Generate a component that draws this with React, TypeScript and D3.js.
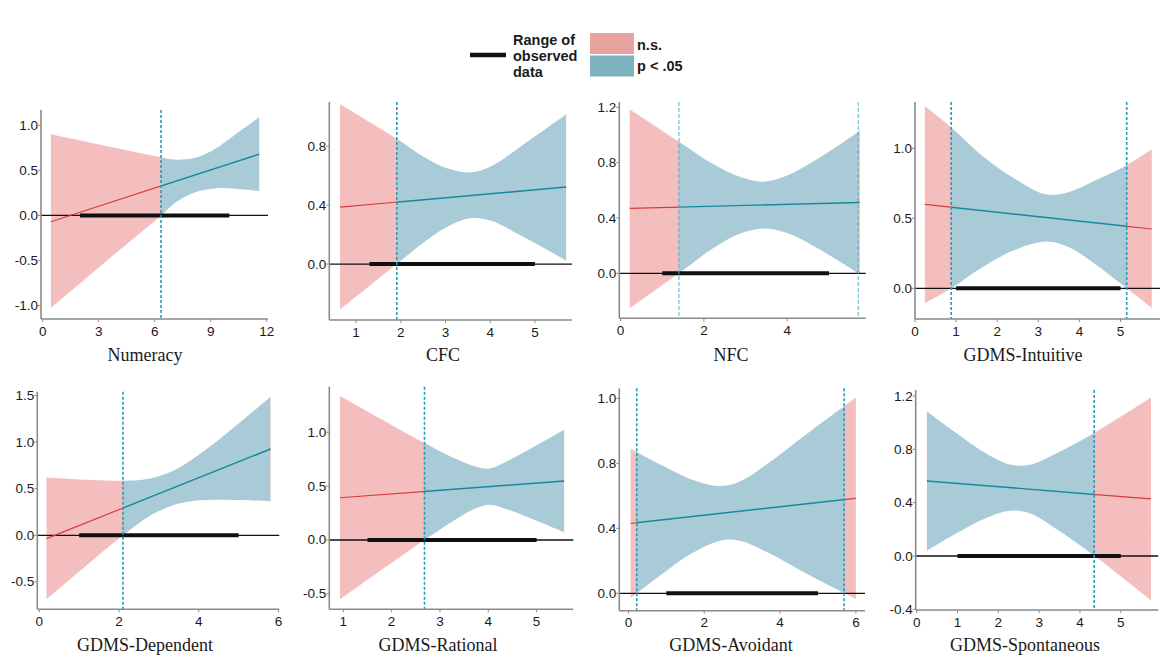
import React from 'react';
import * as d3 from 'd3';

// ---------- data ----------
const titles = ["Numeracy", "CFC", "NFC", "GDMS-Intuitive", "GDMS-Dependent", "GDMS-Rational", "GDMS-Avoidant", "GDMS-Spontaneous"];

const xDomains = [[-0.09, 12.07], [0.40, 5.83], [-0.03, 5.88], [0, 5.96], [-0.05, 6.02], [0.71, 5.76], [-0.24, 6.24], [-0.025, 5.92]];
const yDomains = [[-1.15, 1.17], [-0.38, 1.10], [-0.325, 1.239], [-0.219, 1.331], [-0.794, 1.541], [-0.643, 1.422], [-0.107, 1.262], [-0.405, 1.245]];

const xTicks = [[0, 3, 6, 9, 12], [1, 2, 3, 4, 5], [0, 2, 4], [0, 1, 2, 3, 4, 5], [0, 2, 4, 6], [1, 2, 3, 4, 5], [0, 2, 4, 6], [0, 1, 2, 3, 4, 5]];
const yTicks = [[-1, -0.5, 0, 0.5, 1], [0, 0.4, 0.8], [0, 0.4, 0.8, 1.2], [0, 0.5, 1], [-0.5, 0, 0.5, 1, 1.5], [-0.5, 0, 0.5, 1], [0, 0.4, 0.8, 1.2], [-0.4, 0, 0.4, 0.8, 1.2]];
const yTickLabels = [
  ["-1.0", "-0.5", "0.0", "0.5", "1.0"],
  ["0.0", "0.4", "0.8"],
  ["0.0", "0.4", "0.8", "1.2"],
  ["0.0", "0.5", "1.0"],
  ["-0.5", "0.0", "0.5", "1.0", "1.5"],
  ["-0.5", "0.0", "0.5", "1.0"],
  ["0.0", "0.4", "0.8", "1.0"],
  ["-0.4", "0.0", "0.4", "0.8", "1.2"],
];

// confidence band of the simple slope (upper and lower edge)
const bandX = [
  [0.44, 3.4, 6.34, 7.0, 7.7, 8.4, 9.2, 10.2, 11.6],
  [0.64, 1.91, 2.51, 3.03, 3.55, 4.0, 4.74, 5.70],
  [0.22, 1.40, 2.22, 2.86, 3.42, 3.98, 4.62, 5.70, 5.74],
  [0.24, 0.88, 1.58, 2.39, 3.2, 3.77, 4.42, 5.15, 5.76],
  [0.18, 2.10, 2.78, 3.36, 4.03, 4.86, 5.80],
  [0.93, 2.68, 3.35, 3.76, 4.03, 4.45, 5.0, 5.57],
  [0.06, 0.22, 0.92, 1.63, 2.42, 2.94, 3.65, 4.7, 5.69, 6.0],
  [0.25, 0.9, 1.63, 2.29, 2.78, 3.43, 4.35, 5.74],
];
const bandHi = [
  [0.90, 0.77, 0.645, 0.62, 0.622, 0.655, 0.735, 0.88, 1.09],
  [1.084, 0.85, 0.728, 0.65, 0.622, 0.66, 0.81, 1.016],
  [1.186, 0.952, 0.79, 0.698, 0.663, 0.705, 0.808, 1.024, 1.036],
  [1.30, 1.15, 0.96, 0.79, 0.67, 0.69, 0.775, 0.88, 0.993],
  [0.62, 0.585, 0.61, 0.693, 0.872, 1.151, 1.487],
  [1.336, 0.90, 0.748, 0.677, 0.664, 0.745, 0.878, 1.023],
  [0.891, 0.87, 0.783, 0.704, 0.66, 0.688, 0.794, 0.981, 1.152, 1.205],
  [1.086, 0.937, 0.782, 0.686, 0.684, 0.77, 0.922, 1.188],
];
const bandLo = [
  [-1.03, -0.51, 0.0, 0.125, 0.215, 0.27, 0.30, 0.298, 0.27],
  [-0.309, 0.0, 0.146, 0.252, 0.31, 0.295, 0.185, 0.023],
  [-0.253, 0.0, 0.182, 0.286, 0.325, 0.293, 0.2, 0.0, -0.01],
  [-0.107, 0.0, 0.14, 0.27, 0.335, 0.29, 0.165, 0.0, -0.14],
  [-0.69, 0.0, 0.21, 0.323, 0.375, 0.379, 0.365],
  [-0.552, 0.0, 0.198, 0.297, 0.328, 0.275, 0.178, 0.071],
  [-0.029, 0.0, 0.123, 0.24, 0.324, 0.324, 0.254, 0.121, 0.002, -0.035],
  [0.04, 0.157, 0.276, 0.34, 0.318, 0.2, 0.002, -0.332],
];

// simple slope estimate (end points)
const lineX = [[0.44, 11.6], [0.64, 5.70], [0.22, 5.74], [0.24, 5.76], [0.18, 5.80], [0.93, 5.57], [0.06, 6.0], [0.25, 5.74]];
const lineY = [[-0.07, 0.68], [0.386, 0.523], [0.47, 0.513], [0.60, 0.424], [-0.036, 0.926], [0.392, 0.547], [0.431, 0.585], [0.563, 0.428]];

// Johnson-Neyman points and significance regions
const jnPoints = [[6.34], [1.91], [1.40, 5.70], [0.88, 5.15], [2.10], [2.68], [0.22, 5.69], [4.35]];
const sigRanges = [[[6.34, 11.6]], [[1.91, 5.70]], [[1.40, 5.70]], [[0.88, 5.15]], [[2.10, 5.80]], [[2.68, 5.57]], [[0.22, 5.69]], [[0.25, 4.35]]];

// range of observed data
const observed = [[2.0, 10.0], [1.3, 5.0], [1.0, 5.0], [1.0, 5.0], [1.0, 5.0], [1.5, 5.0], [1.0, 5.0], [1.0, 5.0]];

// legend
const legendRangeLabel = ["Range of", "observed", "data"];
const legendKeys = ["n.s.", "p < .05"];

// ---------- layout / style ----------
const boxes = [
  { l: 41, r: 268, t: 110, b: 319, tx: 145, ty: 355 },
  { l: 329.3, r: 572, t: 102, b: 320, tx: 443, ty: 355 },
  { l: 619.3, r: 865.7, t: 102, b: 318.3, tx: 731, ty: 355 },
  { l: 915, r: 1160, t: 102, b: 319, tx: 1023, ty: 355 },
  { l: 37.3, r: 279.3, t: 391.7, b: 609.3, tx: 145, ty: 645 },
  { l: 329.3, r: 573.3, t: 386.7, b: 609.3, tx: 438, ty: 645 },
  { l: 619.3, r: 865, t: 388.3, b: 610.7, tx: 731, ty: 645 },
  { l: 915.7, r: 1158.3, t: 390, b: 610, tx: 1025, ty: 645 },
];

const C = {
  nsFill: '#f5bebe',
  sigFill: '#a9cbd8',
  nsLine: '#d63c3c',
  sigLine: '#14899b',
  jn: '#1f9fb8',
  axis: '#8a8a8a',
  legNs: '#e8a3a1',
  legSig: '#7db2be',
};
const SANS = '"Liberation Sans", Arial, sans-serif';
const SERIF = '"Liberation Serif", "Times New Roman", serif';

function complement(ranges: number[][], lo: number, hi: number): number[][] {
  const out: number[][] = [];
  let cur = lo;
  const sorted = [...ranges].sort((a, b) => a[0] - b[0]);
  for (const [a, b] of sorted) {
    if (a > cur) out.push([cur, a]);
    cur = Math.max(cur, b);
  }
  if (cur < hi) out.push([cur, hi]);
  return out;
}

function Panel({ i }: { i: number }) {
  const bx = boxes[i];
  const x = d3.scaleLinear().domain(xDomains[i]).range([bx.l, bx.r]);
  const y = d3.scaleLinear().domain(yDomains[i]).range([bx.b, bx.t]);
  const idx = d3.range(bandX[i].length);
  const area = d3.area<number>()
    .x(k => x(bandX[i][k]))
    .y0(k => y(bandLo[i][k]))
    .y1(k => y(bandHi[i][k]))
    .curve(d3.curveCatmullRom.alpha(0.5));
  const bandPath = area(idx) || '';
  const lineGen = d3.line<number>().x(k => x(lineX[i][k])).y(k => y(lineY[i][k]));
  const linePath = lineGen([0, 1]) || '';
  const xs = bandX[i];
  const sig = sigRanges[i];
  const ns = complement(sig, xs[0] - 0.001, xs[xs.length - 1] + 0.001);
  const sigId = `sig${i}`;
  const nsId = `ns${i}`;
  const thinJn = i === 2;
  return (
    <g>
      <defs>
        <clipPath id={sigId}>
          {sig.map((r, k) => (
            <rect key={k} x={x(r[0])} y={bx.t - 20} width={x(r[1]) - x(r[0])} height={bx.b - bx.t + 40} />
          ))}
        </clipPath>
        <clipPath id={nsId}>
          {ns.map((r, k) => (
            <rect key={k} x={x(r[0]) - 1} y={bx.t - 20} width={x(r[1]) - x(r[0]) + 2} height={bx.b - bx.t + 40} />
          ))}
        </clipPath>
      </defs>
      <path d={bandPath} fill={C.nsFill} clipPath={`url(#${nsId})`} />
      <path d={bandPath} fill={C.sigFill} clipPath={`url(#${sigId})`} />
      {/* zero reference line */}
      <line x1={bx.l} x2={bx.r} y1={y(0)} y2={y(0)} stroke="#111" strokeWidth={1.3} />
      {/* observed range */}
      <line x1={x(observed[i][0])} x2={x(observed[i][1])} y1={y(0)} y2={y(0)} stroke="#111" strokeWidth={4} />
      {/* slope line */}
      <path d={linePath} stroke={C.nsLine} strokeWidth={1.2} fill="none" clipPath={`url(#${nsId})`} />
      <path d={linePath} stroke={C.sigLine} strokeWidth={1.4} fill="none" clipPath={`url(#${sigId})`} />
      {/* JN lines */}
      {jnPoints[i].map((v, k) => (
        <line key={k} x1={x(v)} x2={x(v)} y1={bx.t} y2={bx.b} stroke={thinJn ? '#4fb5cb' : C.jn}
          strokeWidth={thinJn ? 1 : 1.6} strokeDasharray={thinJn ? '4,2' : '3,2'} />
      ))}
      {/* axes */}
      <line x1={bx.l} x2={bx.l} y1={bx.t} y2={bx.b} stroke={C.axis} strokeWidth={1.6} />
      <line x1={bx.l} x2={bx.r} y1={bx.b} y2={bx.b} stroke={C.axis} strokeWidth={1.6} />
      {yTicks[i].map((v, k) => (
        <g key={`y${k}`}>
          <line x1={bx.l - 3} x2={bx.l} y1={y(v)} y2={y(v)} stroke={C.axis} strokeWidth={1} />
          <text x={bx.l - 3} y={y(v)} textAnchor="end" dominantBaseline="central" fontFamily={SANS} fontSize={13.5} fill="#1a1a1a">
            {yTickLabels[i][k]}
          </text>
        </g>
      ))}
      {xTicks[i].map((v, k) => (
        <g key={`x${k}`}>
          <line x1={x(v)} x2={x(v)} y1={bx.b} y2={bx.b + 3} stroke={C.axis} strokeWidth={1} />
          <text x={x(v)} y={bx.b + 12} textAnchor="middle" dominantBaseline="central" fontFamily={SANS} fontSize={13.5} fill="#1a1a1a">
            {v}
          </text>
        </g>
      ))}
      <text x={bx.tx} y={bx.ty} textAnchor="middle" dominantBaseline="central" fontFamily={SERIF} fontSize={18} fill="#1a1a1a">
        {titles[i]}
      </text>
    </g>
  );
}

function Legend() {
  return (
    <g fontFamily={SANS} fontWeight="bold" fontSize={14.5} fill="#1a1a1a">
      <line x1={470} x2={506} y1={55} y2={55} stroke="#111" strokeWidth={4.5} />
      {legendRangeLabel.map((t, k) => (
        <text key={k} x={513} y={40 + k * 16} dominantBaseline="central">{t}</text>
      ))}
      <rect x={590} y={33} width={44} height={21} fill={C.legNs} />
      <rect x={590} y={55.5} width={44} height={21} fill={C.legSig} />
      <text x={637} y={45} dominantBaseline="central">{legendKeys[0]}</text>
      <text x={637} y={66} dominantBaseline="central">{legendKeys[1]}</text>
    </g>
  );
}

export default function App() {
  return (
    <svg width={1173} height={663} style={{ position: 'absolute', left: 0, top: 0, background: '#fff' }}>
      <rect width={1173} height={663} fill="#fff" />
      <Legend />
      {titles.map((_, i) => <Panel key={i} i={i} />)}
    </svg>
  );
}
